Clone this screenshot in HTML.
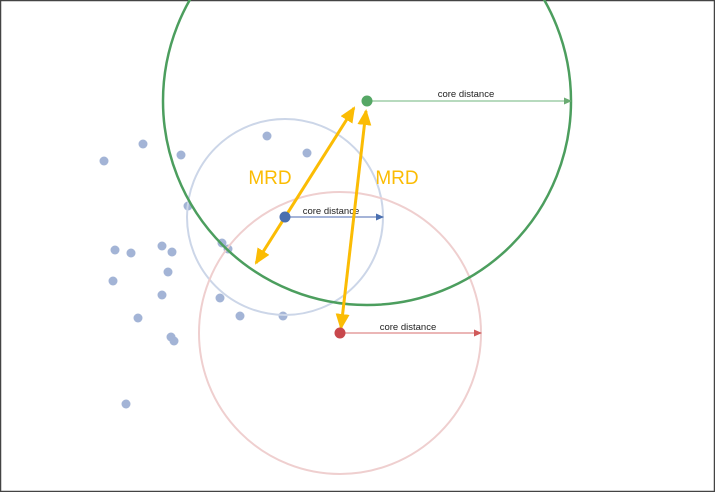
<!DOCTYPE html>
<html><head><meta charset="utf-8"><style>
html,body{margin:0;padding:0;background:#fff}
svg{display:block}
text{font-family:"Liberation Sans",sans-serif}
</style></head><body>
<svg width="715" height="492" viewBox="0 0 715 492" xmlns="http://www.w3.org/2000/svg">
<defs>
<marker id="ag" markerWidth="8" markerHeight="8" refX="7" refY="4" orient="auto" markerUnits="userSpaceOnUse"><path d="M0,0.5 L8,4 L0,7.5z" fill="#6aab72"/></marker>
<marker id="ab" markerWidth="8" markerHeight="8" refX="7" refY="4" orient="auto" markerUnits="userSpaceOnUse"><path d="M0,0.5 L8,4 L0,7.5z" fill="#4a6fb0"/></marker>
<marker id="ar" markerWidth="8" markerHeight="8" refX="7" refY="4" orient="auto" markerUnits="userSpaceOnUse"><path d="M0,0.5 L8,4 L0,7.5z" fill="#d05a5a"/></marker>
<marker id="ay" markerWidth="16" markerHeight="14" refX="14" refY="7" orient="auto" markerUnits="userSpaceOnUse"><path d="M0,0 L16,7 L0,14z" fill="#fbbc04"/></marker>
<marker id="ays" markerWidth="16" markerHeight="14" refX="2" refY="7" orient="auto" markerUnits="userSpaceOnUse"><path d="M16,0 L0,7 L16,14z" fill="#fbbc04"/></marker>
</defs>
<rect x="0.5" y="0.5" width="714" height="491" fill="#fff" stroke="#444" stroke-width="1.5"/>
<g fill="#a3b4d6">
<circle cx="104" cy="161" r="4.5"/><circle cx="143" cy="144" r="4.5"/><circle cx="181" cy="155" r="4.5"/>
<circle cx="267" cy="136" r="4.5"/><circle cx="307" cy="153" r="4.5"/><circle cx="188" cy="206" r="4.5"/>
<circle cx="115" cy="250" r="4.5"/><circle cx="131" cy="253" r="4.5"/><circle cx="162" cy="246" r="4.5"/>
<circle cx="172" cy="252" r="4.5"/><circle cx="168" cy="272" r="4.5"/><circle cx="113" cy="281" r="4.5"/>
<circle cx="162" cy="295" r="4.5"/><circle cx="138" cy="318" r="4.5"/><circle cx="171" cy="337" r="4.5"/>
<circle cx="174" cy="341" r="4.5"/><circle cx="222" cy="243" r="4.5"/><circle cx="228" cy="249" r="4.5"/>
<circle cx="220" cy="298" r="4.5"/><circle cx="240" cy="316" r="4.5"/><circle cx="283" cy="316" r="4.5"/>
<circle cx="126" cy="404" r="4.5"/>
</g>
<circle cx="285" cy="217" r="98" fill="none" stroke="#ccd6e8" stroke-width="2"/>
<circle cx="340" cy="333" r="141" fill="none" stroke="#efcfcf" stroke-width="2"/>
<circle cx="367" cy="101" r="204" fill="none" stroke="#4c9e5e" stroke-width="2.5"/>
<line x1="367" y1="101" x2="571" y2="101" stroke="#8cc496" stroke-width="1.2" marker-end="url(#ag)"/>
<line x1="285" y1="217" x2="383" y2="217" stroke="#6f88c0" stroke-width="1.2" marker-end="url(#ab)"/>
<line x1="340" y1="333" x2="481" y2="333" stroke="#df8a8a" stroke-width="1.2" marker-end="url(#ar)"/>
<text x="466" y="97" font-size="9.5" text-anchor="middle" fill="#222">core distance</text>
<text x="331" y="214" font-size="9.5" text-anchor="middle" fill="#222">core distance</text>
<text x="408" y="330" font-size="9.5" text-anchor="middle" fill="#222">core distance</text>
<line x1="256" y1="263" x2="354" y2="108" stroke="#fbbc04" stroke-width="3" marker-end="url(#ay)" marker-start="url(#ays)"/>
<line x1="341" y1="328" x2="366" y2="111" stroke="#fbbc04" stroke-width="3" marker-end="url(#ay)" marker-start="url(#ays)"/>
<text x="270" y="184" font-size="19" text-anchor="middle" fill="#fbbc04">MRD</text>
<text x="397" y="184" font-size="19" text-anchor="middle" fill="#fbbc04">MRD</text>
<circle cx="367" cy="101" r="5.5" fill="#55a765"/>
<circle cx="285" cy="217" r="5.5" fill="#4a6fb0"/>
<circle cx="340" cy="333" r="5.5" fill="#c8474c"/>
</svg>
</body></html>
